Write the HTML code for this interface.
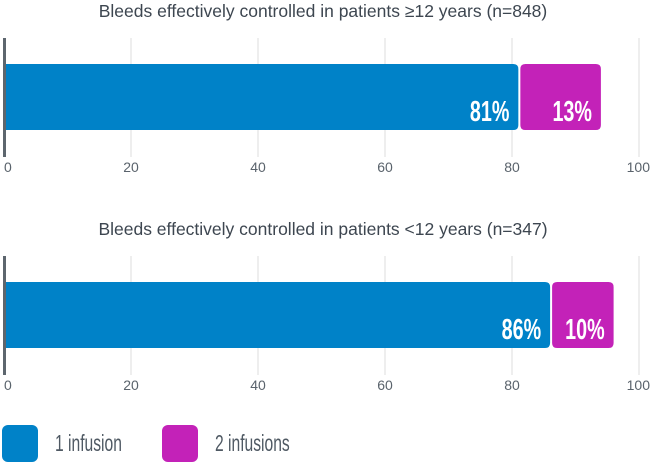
<!DOCTYPE html>
<html><head><meta charset="utf-8"><style>
body{margin:0;background:#fff;width:650px;height:462px;overflow:hidden;font-family:"Liberation Sans",sans-serif}
svg{display:block}
.t{font-size:17.5px;fill:#3d4650}
.tk{font-size:14px;fill:#5a636c}
.lab{font-family:"Liberation Sans",sans-serif;font-size:29px;fill:#fff;font-weight:bold}
.leg{font-family:"Liberation Sans",sans-serif;font-size:23px;fill:#4f5963}
</style></head><body>
<svg id="c" width="650" height="462"></svg>
<script>
const titles=["Bleeds effectively controlled in patients \u226512 years (n=848)","Bleeds effectively controlled in patients <12 years (n=347)"];
const oneInfusion=[81,86];
const twoInfusions=[13,10];
const ticks=[0,20,40,60,80,100];
const seriesNames=["1 infusion","2 infusions"];
const colors=["#0082c8","#c322b8"];
const NS="http://www.w3.org/2000/svg";
const svg=document.getElementById('c');
function x(v){return 4+v*6.35;}
function mk(tag,attrs,parent){const e=document.createElementNS(NS,tag);for(const k in attrs)e.setAttribute(k,attrs[k]);(parent||svg).appendChild(e);return e;}
function rr(x0,y0,w,h,r,rl){
  return `M${x0+(rl?r:0)},${y0}H${x0+w-r}Q${x0+w},${y0} ${x0+w},${y0+r}V${y0+h-r}Q${x0+w},${y0+h} ${x0+w-r},${y0+h}H${x0+(rl?r:0)}${rl?`Q${x0},${y0+h} ${x0},${y0+h-r}V${y0+r}Q${x0},${y0} ${x0+r},${y0}`:`V${y0}`}Z`;}
titles.forEach((tt,i)=>{
  const off=i*218;
  const g=mk('g',{});
  
  
  const t=mk('text',{x:323,y:17+off,'text-anchor':'middle',class:'t'},g);t.textContent=tt;
  
  
  ticks.forEach(v=>{
    const l=mk('line',{x1:x(v),x2:x(v),y1:38+off,y2:157+off,stroke:'#dcdcdc','stroke-width':1},g);
    
    
    const tx=mk('text',{x:v===100?650:x(v),y:172+off,'text-anchor':v===0?'start':(v===100?'end':'middle'),class:'tk'},g);
    tx.textContent=v;
    
    
  });
  const a1=oneInfusion[i],a2=twoInfusions[i];
  const y0=64+off,h=66;
  const b1=mk('path',{d:rr(x(0),y0,x(a1)-x(0),h,5,false),fill:colors[0]},g);
  
  
  const b2=mk('path',{d:rr(x(a1)+2,y0,x(a1+a2)-x(a1)-2,h,5,true),fill:colors[1]},g);
  
  
  const ax=mk('rect',{x:3,y:38+off,width:3,height:119,fill:'#5d666e'},g);
  
  
  const l1=mk('text',{transform:`translate(${x(a1)-9},${y0+57}) scale(0.68,1)`,'text-anchor':'end',class:'lab'},g);l1.textContent=a1+'%';
  
  
  const l2=mk('text',{transform:`translate(${x(a1+a2)-9},${y0+57}) scale(0.68,1)`,'text-anchor':'end',class:'lab'},g);l2.textContent=a2+'%';
  
  
});
const lx=[2,162];
seriesNames.forEach((n,i)=>{
  const r=mk('rect',{x:lx[i],y:425,width:36,height:37,rx:6,fill:colors[i]});
  
  
  const t=mk('text',{transform:`translate(${lx[i]+53},451) scale(0.68,1)`,class:'leg'});t.textContent=n;
  
  
});
</script>
</body></html>
